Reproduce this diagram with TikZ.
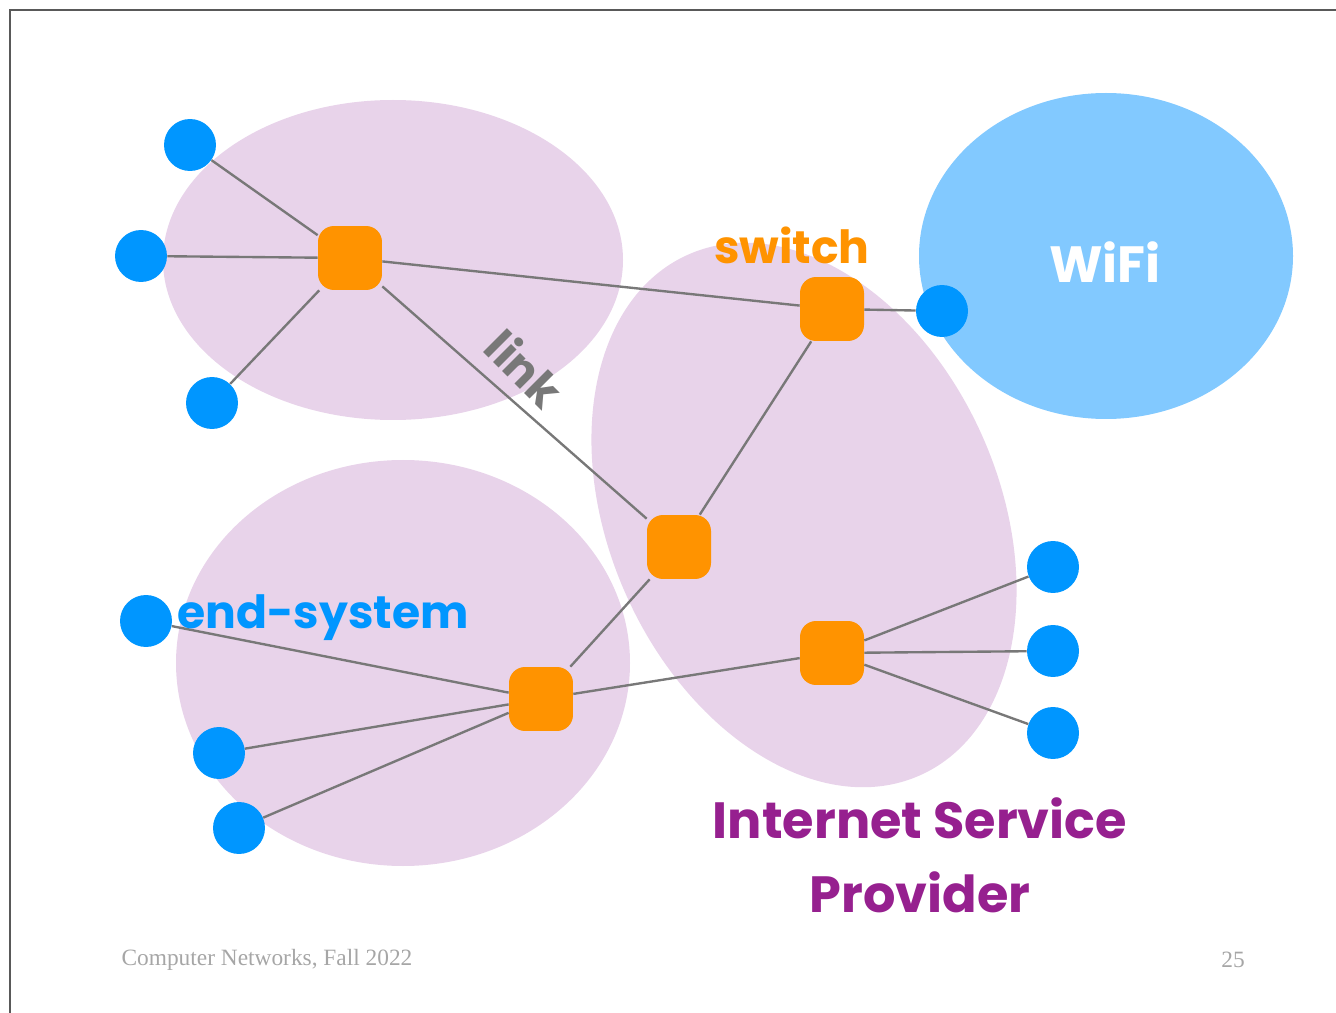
\documentclass[tikz,border=0pt]{standalone}
\usepackage{fontspec}
\setmainfont{Liberation Serif}
\newfontfamily\comic{Poppins}
\usepackage{tikz}
\definecolor{cloudPink}{HTML}{E8D3EA}
\definecolor{wifiBlue}{HTML}{82C9FF}
\definecolor{hostBlue}{HTML}{0096FF}
\definecolor{swOrange}{HTML}{FF9300}
\definecolor{linkGray}{HTML}{787878}
\definecolor{ispPurple}{HTML}{96208F}
\definecolor{footGray}{HTML}{A6A6A6}
\tikzstyle{sw}=[fill=swOrange,rounded corners=0.32cm,minimum size=1.28cm,inner sep=0pt]
\tikzstyle{host}=[circle,fill=hostBlue,minimum size=1.04cm,inner sep=0pt]
\tikzstyle{lnk}=[line width=1.35pt,draw=linkGray]
\tikzstyle{lbl}=[font=\comic\bfseries\fontsize{26}{30}\selectfont,inner sep=0pt]

\begin{document}
\begin{tikzpicture}[x=0.02cm,y=-0.02cm]
\useasboundingbox (0,0) rectangle (1336,1013);
%cadre
\draw[line width=1.1pt,gray!70!black] (1336,10) -- (10,10) -- (10,1013);

%nuages
\fill[cloudPink] (393,260) ellipse [x radius=230, y radius=160];
\fill[cloudPink] (403,663) ellipse [x radius=227, y radius=203];
\fill[cloudPink,rotate around={-66:(804,515)}] (804,515) ellipse [x radius=285, y radius=195];
\fill[wifiBlue] (1106,256) ellipse [x radius=187, y radius=163];

%switches
\node[sw] (s1) at (350,258) {};
\node[sw] (s2) at (832,309) {};
\node[sw] (s3) at (679,547) {};
\node[sw] (s4) at (541,699) {};
\node[sw] (s5) at (832,653) {};

%end-systems
\node[host] (h1) at (190,145) {};
\node[host] (h2) at (141,256) {};
\node[host] (h3) at (212,403) {};
\node[host] (hw) at (942,311) {};
\node[host] (h4) at (146,621) {};
\node[host] (h5) at (219,753) {};
\node[host] (h6) at (239,828) {};
\node[host] (h7) at (1053,567) {};
\node[host] (h8) at (1053,651) {};
\node[host] (h9) at (1053,733) {};

%links
\foreach \h in {h1,h2,h3} \draw[lnk] (s1) -- (\h);
\foreach \h in {h4,h5,h6} \draw[lnk] (s4) -- (\h);
\foreach \h in {h7,h8,h9} \draw[lnk] (s5) -- (\h);
\draw[lnk] (s1) -- (s2);
\draw[lnk] (s1) -- (s3);
\draw[lnk] (s2) -- (hw);
\draw[lnk] (s2) -- (s3);
\draw[lnk] (s3) -- (s4);
\draw[lnk] (s4) -- (s5);

%textes
\node[lbl,text=swOrange] (tsw) at (792,245) {switch};
\node[lbl,text=white,font=\comic\bfseries\fontsize{29}{32}\selectfont] (twifi) at (1105,262) {WiFi};
\node[lbl,text=linkGray,rotate=-45] (tlink) at (525,368) {link};
\node[lbl,text=hostBlue] (tend) at (323,618) {end-system};
\node[lbl,text=ispPurple,align=center,font=\comic\bfseries\fontsize{29}{42}\selectfont] (tisp) at (920,855) {Internet Service\\Provider};

%pied de page
\node[text=footGray,font=\fontsize{13.3}{15}\selectfont] (foot) at (267,960) {Computer Networks, Fall 2022};
\node[text=footGray,font=\fontsize{13.3}{15}\selectfont] (page) at (1233,960) {25};
\end{tikzpicture}
\end{document}
